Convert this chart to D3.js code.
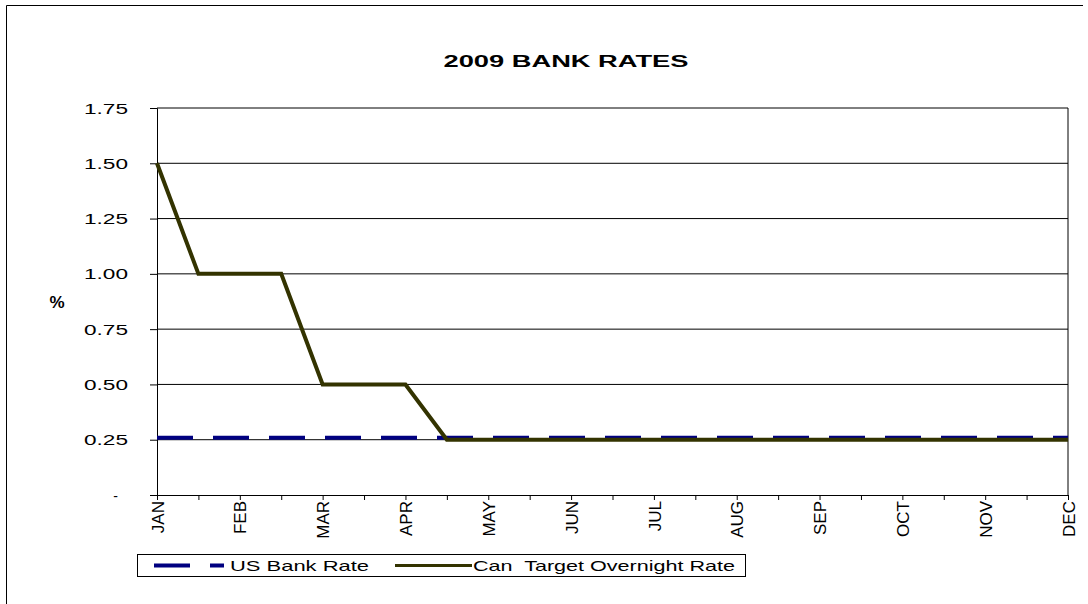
<!DOCTYPE html>
<html>
<head>
<meta charset="utf-8">
<script src="https://cdn.jsdelivr.net/npm/d3@7"></script>
<style>
  body { margin: 0; background: #fff; }
  text { font-family: "Liberation Sans", Arial, sans-serif; fill: #000; }
</style>
</head>
<body>
<script>
const width = 1088;
const height = 604;

// half-month slots, labels on every other slot
const categories = ['JAN', '', 'FEB', '', 'MAR', '', 'APR', '', 'MAY', '', 'JUN', '', 'JUL', '',
  'AUG', '', 'SEP', '', 'OCT', '', 'NOV', '', 'DEC'];
const usBankRate = [0.25, 0.25, 0.25, 0.25, 0.25, 0.25, 0.25, 0.25, 0.25, 0.25, 0.25, 0.25,
  0.25, 0.25, 0.25, 0.25, 0.25, 0.25, 0.25, 0.25, 0.25, 0.25, 0.25];
const canOvernightRate = [1.5, 1.0, 1.0, 1.0, 0.5, 0.5, 0.5, 0.25, 0.25, 0.25, 0.25, 0.25,
  0.25, 0.25, 0.25, 0.25, 0.25, 0.25, 0.25, 0.25, 0.25, 0.25, 0.25];
const yTicks = [0, 0.25, 0.5, 0.75, 1.0, 1.25, 1.5, 1.75];
const seriesNames = ['US Bank Rate', 'Can  Target Overnight Rate'];

const margin = {left: 157, right: 20, top: 108, bottom: 109};

const svg = d3.select('body').append('svg')
  .attr('width', width)
  .attr('height', height);

// outer frame (top and left only)
svg.append('path')
  .attr('d', `M6.5,${height} V5.5 H1083`)
  .attr('fill', 'none')
  .attr('stroke', '#000');

svg.append('text')
  .attr('x', 566)
  .attr('y', 67)
  .attr('text-anchor', 'middle')
  .attr('font-size', 16)
  .attr('font-weight', 'bold')
  .attr('textLength', 245)
  .attr('lengthAdjust', 'spacingAndGlyphs')
  .text('2009 BANK RATES');

const x = d3.scalePoint()
  .domain(d3.range(categories.length))
  .range([margin.left, width - margin.right]);

const y = d3.scaleLinear()
  .domain([0, 1.75])
  .range([height - margin.bottom, margin.top]);

// gridlines
svg.append('g')
  .selectAll('line')
  .data(yTicks.filter(d => d > 0))
  .enter().append('line')
    .attr('x1', margin.left)
    .attr('x2', width - margin.right)
    .attr('y1', d => y(d))
    .attr('y2', d => y(d))
    .attr('stroke', '#000');

// right border of plot
svg.append('line')
  .attr('x1', width - margin.right)
  .attr('x2', width - margin.right)
  .attr('y1', y(1.75))
  .attr('y2', y(0))
  .attr('stroke', '#000');

const yAxis = svg.append('g')
  .attr('transform', `translate(${margin.left},0)`)
  .call(d3.axisLeft(y)
    .tickValues(yTicks)
    .tickSize(7)
    .tickPadding(22)
    .tickFormat(d => d === 0 ? '-' : d3.format('.2f')(d)));
yAxis.select('.domain').attr('stroke', '#000');
yAxis.selectAll('.tick line').attr('stroke', '#000');
yAxis.selectAll('.tick text')
  .attr('font-size', 14)
  .attr('font-family', '"Liberation Sans", Arial, sans-serif')
  .attr('fill', '#000')
  .attr('dy', '0.36em')
  .each(function (d) {
    if (d === 0) {
      d3.select(this).attr('dx', -10);
    } else {
      d3.select(this).attr('textLength', 44).attr('lengthAdjust', 'spacingAndGlyphs');
    }
  });

const xAxis = svg.append('g')
  .attr('transform', `translate(0,${y(0)})`)
  .call(d3.axisBottom(x)
    .tickSize(5)
    .tickFormat(i => categories[i]));
xAxis.select('.domain').attr('stroke', '#000');
xAxis.selectAll('.tick line').attr('stroke', '#000');
xAxis.selectAll('.tick text')
  .attr('font-size', 17)
  .attr('font-family', '"Liberation Sans", Arial, sans-serif')
  .attr('fill', '#000')
  .attr('text-anchor', 'end')
  .attr('transform', 'rotate(-90)')
  .attr('x', -6)
  .attr('y', 0)
  .attr('dy', '0.36em');

svg.append('text')
  .attr('x', 57)
  .attr('y', 308)
  .attr('text-anchor', 'middle')
  .attr('font-size', 17)
  .attr('font-weight', 'bold')
  .text('%');

const line = d3.line()
  .x((d, i) => x(i))
  .y(d => y(d));

// US drawn first, nudged up so it peeks over the Canadian line where they overlap
svg.append('path')
  .datum(usBankRate)
  .attr('d', line)
  .attr('transform', 'translate(0,-2)')
  .attr('fill', 'none')
  .attr('stroke', '#000080')
  .attr('stroke-width', 4)
  .attr('stroke-dasharray', '36,20');

svg.append('path')
  .datum(canOvernightRate)
  .attr('d', line)
  .attr('fill', 'none')
  .attr('stroke', '#333300')
  .attr('stroke-width', 4)
  .attr('stroke-linejoin', 'miter');

// legend
const legend = svg.append('g');
legend.append('rect')
  .attr('x', 137.5)
  .attr('y', 554.5)
  .attr('width', 608)
  .attr('height', 22)
  .attr('fill', '#fff')
  .attr('stroke', '#000');

legend.append('line')
  .attr('x1', 154).attr('x2', 224)
  .attr('y1', 565.5).attr('y2', 565.5)
  .attr('stroke', '#000080')
  .attr('stroke-width', 4)
  .attr('stroke-dasharray', '36,20');
legend.append('text')
  .attr('x', 230)
  .attr('y', 571)
  .attr('font-size', 15)
  .attr('textLength', 139)
  .attr('lengthAdjust', 'spacingAndGlyphs')
  .text(seriesNames[0]);

legend.append('line')
  .attr('x1', 395).attr('x2', 472)
  .attr('y1', 565.5).attr('y2', 565.5)
  .attr('stroke', '#333300')
  .attr('stroke-width', 3);
legend.append('text')
  .attr('x', 473)
  .attr('y', 571)
  .attr('font-size', 15)
  .attr('textLength', 262)
  .attr('lengthAdjust', 'spacingAndGlyphs')
  .style('white-space', 'pre')
  .text(seriesNames[1]);
</script>
</body>
</html>
